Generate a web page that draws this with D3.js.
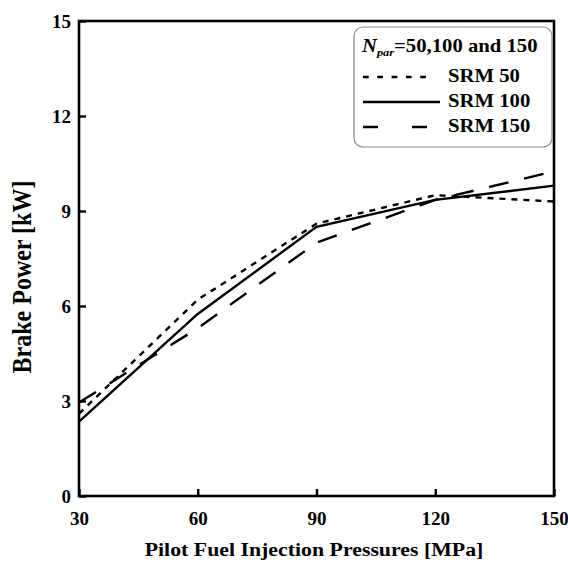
<!DOCTYPE html>
<html>
<head>
<meta charset="utf-8">
<script src="https://cdn.jsdelivr.net/npm/d3@7"></script>
<style>
  body { margin: 0; background: #fff; }
  svg text { font-family: "Liberation Serif", "Times New Roman", Times, "DejaVu Serif", serif; font-weight: bold; fill: #000; }
</style>
</head>
<body>
<svg id="chart" width="568" height="563"></svg>
<script>
(function() {

	// data
	var pressures = [30, 60, 90, 120, 150];
	var srm50  = [2.6, 6.2, 8.6, 9.5, 9.3];
	var srm100 = [2.35, 5.75, 8.5, 9.35, 9.8];
	var srm150 = [2.95, 5.3, 8.0, 9.35, 10.25];
	var seriesNames = ['SRM 50', 'SRM 100', 'SRM 150'];
	var xTicks = [30, 60, 90, 120, 150];
	var yTicks = [0, 3, 6, 9, 12, 15];

	var serifFont = '"Liberation Serif", "Times New Roman", Times, "DejaVu Serif", serif';
	var left = 79, right = 554, top = 21, bottom = 496;
	var stretch = 1.12; // text in the figure is a bit wider than normal

	var svg = d3.select('#chart');

	var x = d3.scaleLinear().domain([30, 150]).range([left, right]);
	var y = d3.scaleLinear().domain([0, 15]).range([bottom, top]);

	var series = [
		{ name: seriesNames[0], values: srm50,  dash: '6,6',   legendDash: '5.7,8.6', legendEnd: 426 },
		{ name: seriesNames[1], values: srm100, dash: null,    legendDash: null,      legendEnd: 440 },
		{ name: seriesNames[2], values: srm150, dash: '20,16', legendDash: '15,34',   legendEnd: 427 }
	];

	var line = d3.line()
		.x(function(d) { return x(d[0]); })
		.y(function(d) { return y(d[1]); });

	// lines
	svg.selectAll('.serie').data(series).enter()
		.append('path')
			.attr('class', 'serie')
			.attr('fill', 'none')
			.attr('stroke', '#000')
			.attr('stroke-width', 2.4)
			.attr('stroke-dasharray', function(d) { return d.dash; })
			.attr('d', function(d) { return line(pressures.map(function(p, i) { return [p, d.values[i]]; })); });

	// axes (ticks inward)
	var xAxis = svg.append('g')
		.attr('transform', 'translate(0,' + bottom + ')')
		.call(d3.axisBottom(x).tickValues(xTicks).tickSizeInner(-7).tickSizeOuter(0).tickPadding(16));
	var yAxis = svg.append('g')
		.attr('transform', 'translate(' + left + ',0)')
		.call(d3.axisLeft(y).tickValues(yTicks).tickSizeInner(-7).tickSizeOuter(0).tickPadding(8));

	[xAxis, yAxis].forEach(function(a) {
		a.attr('font-family', serifFont).attr('font-size', 19);
		a.select('.domain').remove();
		a.selectAll('line').attr('stroke', '#000').attr('stroke-width', 2.4);
		a.selectAll('text').attr('fill', '#000');
	});
	xAxis.selectAll('text').attr('dy', '0.71em');

	// frame
	svg.append('rect')
		.attr('x', left)
		.attr('y', top)
		.attr('width', right - left)
		.attr('height', bottom - top)
		.attr('fill', 'none')
		.attr('stroke', '#000')
		.attr('stroke-width', 2.6);

	// axis titles
	svg.append('text')
		.attr('transform', 'translate(314,556) scale(' + stretch + ',1)')
		.attr('text-anchor', 'middle')
		.style('font-size', '19.5px')
		.text('Pilot Fuel Injection Pressures [MPa]');

	svg.append('text')
		.attr('transform', 'translate(31,277) rotate(-90) scale(1,' + stretch + ')')
		.attr('text-anchor', 'middle')
		.style('font-size', '24px')
		.text('Brake Power [kW]');

	// legend
	var legend = svg.append('g');
	legend.append('rect')
		.attr('x', 354)
		.attr('y', 27)
		.attr('width', 198)
		.attr('height', 120)
		.attr('rx', 9)
		.attr('fill', '#fff')
		.attr('stroke', '#888')
		.attr('stroke-width', 1.2);

	var title = legend.append('text')
		.attr('transform', 'translate(362,52) scale(' + stretch + ',1)')
		.style('font-size', '18.5px');
	title.append('tspan').style('font-style', 'italic').text('N');
	title.append('tspan').style('font-style', 'italic').style('font-size', '11px').attr('dy', 4).text('par');
	title.append('tspan').attr('dy', -4).text('=50,100 and 150');

	var item = legend.selectAll('.item').data(series).enter()
		.append('g')
			.attr('class', 'item')
			.attr('transform', function(d, i) { return 'translate(0,' + (77 + i * 25) + ')'; });

	item.append('line')
		.attr('x1', 363)
		.attr('x2', function(d) { return d.legendEnd; })
		.attr('stroke', '#000')
		.attr('stroke-width', 2.4)
		.attr('stroke-dasharray', function(d) { return d.legendDash; });

	item.append('text')
		.attr('transform', 'translate(448,5) scale(' + stretch + ',1)')
		.style('font-size', '18.5px')
		.text(function(d) { return d.name; });

})();
</script>
</body>
</html>
